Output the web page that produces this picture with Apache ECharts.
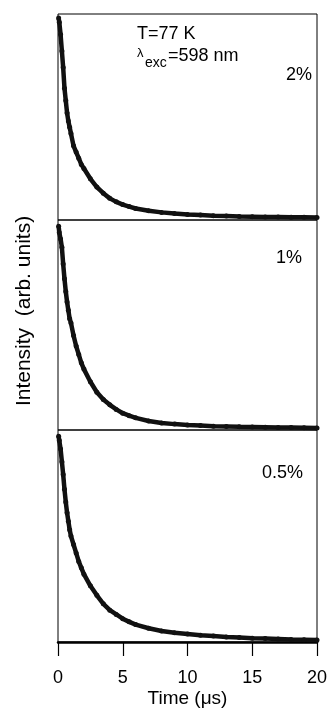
<!DOCTYPE html>
<html>
<head>
<meta charset="utf-8">
<script src="https://cdn.jsdelivr.net/npm/echarts@6/dist/echarts.min.js"></script>
<style>
  html, body { margin: 0; padding: 0; background: #fff; }
  #chart { width: 328px; height: 712px; }
</style>
</head>
<body>
<div id="chart"></div>
<script>
// Luminescence decay curves at T = 77 K for three dopant concentrations
const timeUs = [0.05, 0.1, 0.2, 0.3, 0.4, 0.5, 0.6, 0.7, 0.8, 0.9, 1.0, 1.2, 1.4, 1.6, 1.8, 2.0,
  2.5, 3.0, 3.5, 4.0, 4.5, 5.0, 5.5, 6.0, 7.0, 8.0, 9.0, 10, 11, 12, 13, 14, 15, 16, 17, 18, 19, 20];

const decay2pct = [0.98, 0.96, 0.90, 0.82, 0.74, 0.64, 0.58, 0.52, 0.48, 0.45, 0.42, 0.36, 0.33, 0.30, 0.27, 0.25,
  0.20, 0.16, 0.13, 0.105, 0.088, 0.075, 0.065, 0.056, 0.045, 0.037, 0.031, 0.027, 0.024, 0.021, 0.019, 0.017,
  0.016, 0.015, 0.014, 0.013, 0.013, 0.012];

const decay1pct = [0.97, 0.94, 0.91, 0.87, 0.79, 0.72, 0.66, 0.61, 0.57, 0.53, 0.51, 0.45, 0.40, 0.36, 0.32, 0.29,
  0.23, 0.18, 0.145, 0.12, 0.098, 0.08, 0.068, 0.058, 0.043, 0.033, 0.028, 0.024, 0.021, 0.018, 0.017, 0.015,
  0.014, 0.013, 0.012, 0.012, 0.011, 0.010];

const decay05pct = [0.97, 0.95, 0.91, 0.85, 0.79, 0.72, 0.66, 0.61, 0.57, 0.53, 0.50, 0.46, 0.42, 0.38, 0.35, 0.32,
  0.265, 0.22, 0.18, 0.15, 0.13, 0.11, 0.095, 0.082, 0.065, 0.052, 0.044, 0.038, 0.032, 0.028, 0.024, 0.021,
  0.018, 0.016, 0.014, 0.012, 0.011, 0.010];

const panelLabels = ['2%', '1%', '0.5%'];
const xTicks = [0, 5, 10, 15, 20];

const FONT = 'Liberation Sans, Arial, sans-serif';
const series = [decay2pct, decay1pct, decay05pct];

const grids = [
  { left: 58, right: 11, top: 14, height: 206 },
  { left: 58, right: 11, top: 220, height: 210 },
  { left: 58, right: 11, top: 430, height: 212 }
].map(g => Object.assign({
  show: true, borderColor: '#000', borderWidth: 1, backgroundColor: 'transparent',
  containLabel: false, outerBoundsMode: 'none'
}, g));

const xAxes = grids.map((g, i) => {
  const last = i === grids.length - 1;
  return {
    type: 'value', gridIndex: i, min: xTicks[0], max: xTicks[xTicks.length - 1], interval: 5,
    axisLine: { show: last, lineStyle: { color: '#000', width: 2.5 } },
    axisTick: { show: last, inside: false, length: 14, lineStyle: { color: '#000', width: 1.2 } },
    axisLabel: { show: last, fontSize: 18, color: '#000', fontFamily: FONT, margin: 27 },
    splitLine: { show: false },
    name: last ? 'Time (\u03bcs)' : '',
    nameLocation: 'middle', nameGap: 47,
    nameTextStyle: { fontSize: 19, color: '#000', fontFamily: FONT }
  };
});

const yAxes = grids.map((g, i) => ({
  type: 'value', gridIndex: i, min: 0, max: 1,
  axisLine: { show: false }, axisTick: { show: false },
  axisLabel: { show: false }, splitLine: { show: false }
}));

const lineSeries = series.map((vals, i) => ({
  type: 'line', xAxisIndex: i, yAxisIndex: i,
  data: timeUs.map((t, k) => [t, vals[k]]),
  symbol: 'circle', symbolSize: 5, showSymbol: true,
  lineStyle: { color: '#111', width: 4.5 },
  itemStyle: { color: '#111' },
  smooth: false
}));

const labelPos = [
  { x: 312, y: 75 },
  { x: 302, y: 258 },
  { x: 303, y: 473 }
];

const graphics = panelLabels.map((txt, i) => ({
  type: 'text', x: labelPos[i].x, y: labelPos[i].y,
  style: { text: txt, fontSize: 18, fontFamily: FONT, fill: '#000', textAlign: 'right', textVerticalAlign: 'middle' }
}));

graphics.push(
  { type: 'text', x: 137, y: 34, style: { text: 'T=77 K', fontSize: 18, fontFamily: FONT, fill: '#000', textVerticalAlign: 'middle' } },
  { type: 'text', x: 137, y: 53, style: { text: '\u03bb', fontSize: 13, fontFamily: FONT, fill: '#000', textVerticalAlign: 'middle' } },
  { type: 'text', x: 145, y: 63, style: { text: 'exc', fontSize: 14, fontFamily: FONT, fill: '#000', textVerticalAlign: 'middle' } },
  { type: 'text', x: 168, y: 56, style: { text: '=598 nm', fontSize: 18, fontFamily: FONT, fill: '#000', textVerticalAlign: 'middle' } },
  { type: 'text', x: 24, y: 311, rotation: Math.PI / 2,
    style: { text: 'Intensity  (arb. units)', fontSize: 21, fontFamily: FONT, fill: '#000', textAlign: 'center', textVerticalAlign: 'middle' } }
);

const chart = echarts.init(document.getElementById('chart'), null, { renderer: 'canvas' });
chart.setOption({
  animation: false,
  backgroundColor: '#fff',
  grid: grids,
  xAxis: xAxes,
  yAxis: yAxes,
  series: lineSeries,
  graphic: graphics
});
</script>
</body>
</html>
